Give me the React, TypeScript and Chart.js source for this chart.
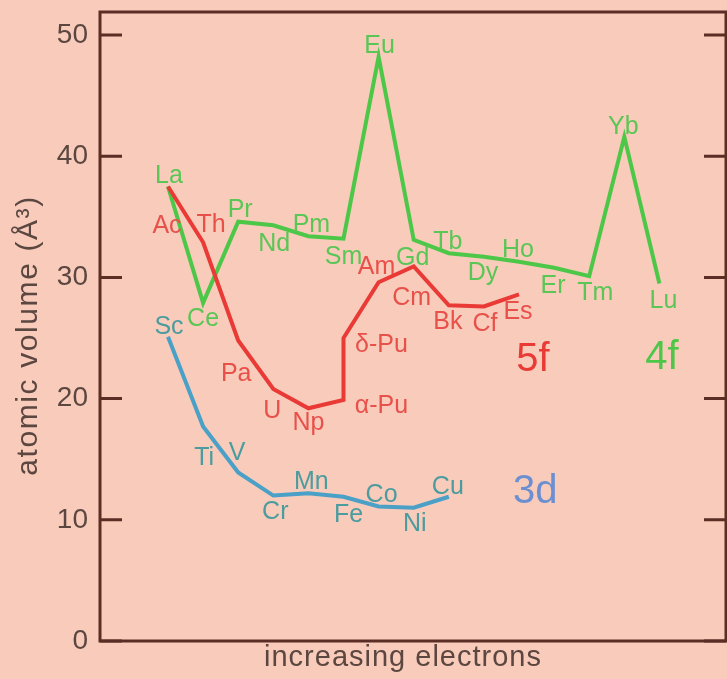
import React, { useEffect, useRef } from "react";
import { Chart, registerables } from "chart.js";

Chart.register(...registerables);

// ---- data ----
const lanthanides = ["La", "Ce", "Pr", "Nd", "Pm", "Sm", "Eu", "Gd", "Tb", "Dy", "Ho", "Er", "Tm", "Yb", "Lu"];
const slots4f = [0, 1, 2, 3, 4, 5, 6, 7, 8, 9, 10, 11, 12, 13, 14];
const volumes4f = [37.5, 27.9, 34.6, 34.3, 33.4, 33.2, 48.2, 33.1, 32.0, 31.7, 31.3, 30.8, 30.1, 41.6, 29.5];

const actinides = ["Ac", "Th", "Pa", "U", "Np", "α-Pu", "δ-Pu", "Am", "Cm", "Bk", "Cf", "Es"];
const slots5f = [0, 1, 2, 3, 4, 5, 5, 6, 7, 8, 9, 10];
const volumes5f = [37.5, 32.9, 24.8, 20.8, 19.2, 19.9, 25.0, 29.6, 30.9, 27.7, 27.6, 28.6];

const metals3d = ["Sc", "Ti", "V", "Cr", "Mn", "Fe", "Co", "Ni", "Cu"];
const slots3d = [0, 1, 2, 3, 4, 5, 6, 7, 8];
const volumes3d = [25.1, 17.7, 13.9, 12.0, 12.2, 11.9, 11.1, 11.0, 11.9];

const yTicks = [0, 10, 20, 30, 40, 50];
const yTitle = "atomic volume (Å³)";
const xTitle = "increasing electrons";

const groupNames = ["5f", "4f", "3d"];
const groupSlots = [10.4, 14.07, 10.46];
const groupVolumes = [23.35, 23.5, 12.45];

// ---- label placement (pixels relative to each point) ----
const offsets4f: [number, number][] = [
  [1, -10], [0, 16], [2, -12], [1, 19], [3, -11], [0, 18], [1, -11], [-1, 18],
  [-1, -11], [-1, 16], [-1, -12], [-1, 18], [6, 17], [-1, -10], [4, 18],
];
const offsets5f: [number, number][] = [
  [-1, 40], [8, -17], [-2, 34], [-1, 22], [0, 15], [38, 6], [38, 7], [-2, -15],
  [-2, 32], [-1, 17], [1, 18], [-1, 18],
];
const offsets3d: [number, number][] = [
  [1, -10], [1, 32], [-1, -19], [2, 17], [3, -11], [5, 18], [3, -11], [1, 16], [-1, -10],
];

const BG = "#f8cbbb";
const FRAME = "#5a2e25";
const TICKTEXT = "#5b4640";
const GREEN = "#4cc748";
const GREEN_TXT = "#5ac655";
const RED = "#e93a36";
const RED_TXT = "#e8504a";
const BLUE = "#4aa0c6";
const BLUE_TXT = "#4b9c9f";
const GROUP3D = "#6b8fd0";

const FONT = "'Liberation Sans', Arial, Helvetica, sans-serif";

const toPoints = (xs: number[], ys: number[]) => xs.map((x, i) => ({ x, y: ys[i] }));

export default function App() {
  const ref = useRef<HTMLCanvasElement | null>(null);

  useEffect(() => {
    if (!ref.current) return;

    const labelSets = [
      { names: actinides, xs: slots5f, ys: volumes5f, offs: offsets5f, color: RED_TXT },
      { names: lanthanides, xs: slots4f, ys: volumes4f, offs: offsets4f, color: GREEN_TXT },
      { names: metals3d, xs: slots3d, ys: volumes3d, offs: offsets3d, color: BLUE_TXT },
    ];
    const groupColors = [RED, GREEN, GROUP3D];

    const bgPlugin = {
      id: "bg",
      beforeDraw(chart: any) {
        const { ctx, width, height } = chart;
        ctx.save();
        ctx.fillStyle = BG;
        ctx.fillRect(0, 0, width, height);
        ctx.restore();
      },
    };

    const framePlugin = {
      id: "frame",
      afterDraw(chart: any) {
        const { ctx, chartArea, scales } = chart;
        const { left, right, top, bottom } = chartArea;
        ctx.save();
        ctx.strokeStyle = FRAME;
        ctx.lineWidth = 3;
        ctx.lineCap = "butt";
        ctx.strokeRect(left, top, right - left, bottom - top);
        const tl = 22;
        yTicks.forEach((v) => {
          const py = scales.y.getPixelForValue(v);
          ctx.beginPath();
          ctx.moveTo(left, py);
          ctx.lineTo(left + tl, py);
          ctx.moveTo(right - tl, py);
          ctx.lineTo(right, py);
          ctx.stroke();
        });

        // axis titles
        ctx.fillStyle = TICKTEXT;
        ctx.textAlign = "center";
        ctx.textBaseline = "middle";
        (ctx as any).letterSpacing = "1px";
        ctx.font = `29px ${FONT}`;
        ctx.fillText(xTitle, (left + right) / 2 - 10, bottom + 17);
        (ctx as any).letterSpacing = "1.6px";
        ctx.font = `30px ${FONT}`;
        ctx.translate(29, (top + bottom) / 2 + 9);
        ctx.rotate(-Math.PI / 2);
        ctx.fillText(yTitle, 0, 0);
        ctx.restore();
      },
    };

    const labelPlugin = {
      id: "elementLabels",
      afterDatasetsDraw(chart: any) {
        const { ctx, scales } = chart;
        ctx.save();
        ctx.textAlign = "center";
        ctx.textBaseline = "middle";
        ctx.font = `25px ${FONT}`;
        labelSets.forEach((set) => {
          ctx.fillStyle = set.color;
          set.names.forEach((name, i) => {
            const px = scales.x.getPixelForValue(set.xs[i]) + set.offs[i][0];
            const py = scales.y.getPixelForValue(set.ys[i]) + set.offs[i][1];
            ctx.fillText(name, px, py);
          });
        });
        ctx.font = `40px ${FONT}`;
        groupNames.forEach((g, i) => {
          ctx.fillStyle = groupColors[i];
          ctx.fillText(g, scales.x.getPixelForValue(groupSlots[i]), scales.y.getPixelForValue(groupVolumes[i]) + 2);
        });
        ctx.restore();
      },
    };

    const chart = new Chart(ref.current, {
      type: "line",
      data: {
        datasets: [
          {
            label: "5f",
            data: toPoints(slots5f, volumes5f),
            borderColor: RED,
            borderWidth: 4,
            pointRadius: 0,
            tension: 0,
            borderJoinStyle: "miter",
            order: 0,
          },
          {
            label: "4f",
            data: toPoints(slots4f, volumes4f),
            borderColor: GREEN,
            borderWidth: 4,
            pointRadius: 0,
            tension: 0,
            borderJoinStyle: "miter",
            order: 1,
          },
          {
            label: "3d",
            data: toPoints(slots3d, volumes3d),
            borderColor: BLUE,
            borderWidth: 4,
            pointRadius: 0,
            tension: 0,
            borderJoinStyle: "miter",
            order: 2,
          },
        ],
      },
      options: {
        animation: false,
        responsive: true,
        maintainAspectRatio: false,
        layout: { padding: { top: 12, right: 1, left: 0, bottom: 0 } },
        plugins: { legend: { display: false }, tooltip: { enabled: false } },
        scales: {
          x: {
            type: "linear",
            min: -1.937,
            max: 15.897,
            grid: { display: false, drawTicks: false },
            border: { display: false },
            ticks: { display: false },
            title: { display: false },
            afterFit: (s: any) => {
              s.height = 38;
              s.paddingLeft = 0;
              s.paddingRight = 0;
            },
          },
          y: {
            type: "linear",
            min: 0,
            max: 51.9,
            grid: { display: false, drawTicks: false },
            border: { display: false },
            ticks: {
              color: TICKTEXT,
              font: { family: FONT, size: 28 },
              padding: 12,
            },
            afterBuildTicks: (s: any) => {
              s.ticks = yTicks.map((v) => ({ value: v }));
            },
            title: { display: false },
            afterFit: (s: any) => {
              s.width = 100;
              s.paddingTop = 0;
              s.paddingBottom = 0;
            },
          },
        },
      },
      plugins: [bgPlugin, labelPlugin, framePlugin],
    } as any);

    return () => chart.destroy();
  }, []);

  return (
    <div style={{ position: "fixed", left: 0, top: 0, width: 727, height: 679, background: BG }}>
      <canvas ref={ref} />
    </div>
  );
}
